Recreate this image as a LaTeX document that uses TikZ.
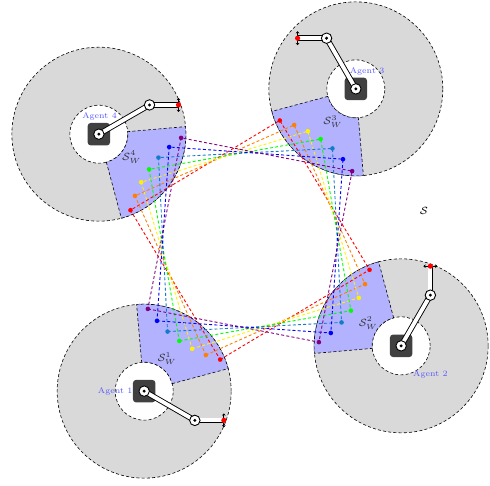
\documentclass[tikz,border=0pt]{standalone}
\usepackage{amsmath}
\usepackage{amsfonts}
\usetikzlibrary{arrows.meta}

\colorlet{sky}{cyan!60!blue}
\tikzset{
  zone/.style={fill=black!15},
  rim/.style={dash pattern=on 2pt off 1.5pt, thin},
  sector/.style={fill=blue!30, rim},
  route/.style={dash pattern=on 2pt off 1.5pt, semithick},
  base/.style={rectangle, rounded corners=2pt, fill=black!75, minimum size=15pt},
  joint/.style={circle, draw, fill=white, inner sep=0pt, minimum size=7pt, line width=0.6pt},
  link/.style={double=white, double distance=2.6pt, line width=0.6pt},
  grip/.style={line width=0.7pt, {Stealth[length=1.5pt,width=2.5pt]}-{Stealth[length=1.5pt,width=2.5pt]}},
  tag/.style={text=blue!65, font=\fontsize{5.5}{6}\selectfont},
}

\begin{document}
\begin{tikzpicture}[x=0.67pt, y=0.67pt]
\useasboundingbox (-250,-245) rectangle (240,240);
\foreach \k/\ua/\ub/\lx/\ly in {1/-30/0/-29/0, 2/60/90/29.3/-28.3, 3/120/180/11.3/17.6, 4/30/0/0.7/18.2} {
  \pgfmathsetmacro\ang{145+90*\k}
  \begin{scope}[shift={(\ang:184.5)}]
    \fill[zone, even odd rule] (0,0) circle (87) (0,0) circle (29);
    \draw[rim] (0,0) circle (87) (0,0) circle (29);
    \filldraw[sector] (\ang+140:29) -- (\ang+140:87) arc[start angle=\ang+140, end angle=\ang+220, radius=87]
      -- (\ang+220:29) arc[start angle=\ang+220, end angle=\ang+140, radius=29] -- cycle;
    \node[font=\scriptsize, text=black!80] (w\k) at (\ang+180:40) {$\mathcal{S}_W^{\k}$};
    \node[base] (a\k) at (0,0) {};
    \node[tag] (n\k) at (\lx,\ly) {Agent \k};
    \coordinate (j\k) at (\ua:58.5);
    \path (j\k) ++(\ub:29) coordinate (g\k);
    \draw[link] (a\k.center) -- (j\k);
    \draw[link] (j\k) -- (g\k);
    \draw[grip] ([shift={(\ub+90:7)}]g\k) -- ([shift={(\ub-90:7)}]g\k);
    \node[joint] (qa\k) at (a\k.center) {};
    \node[joint] (qj\k) at (j\k) {};
    \fill (qa\k) circle (1.1pt) (qj\k) circle (1.1pt);
    \fill[red] (g\k) circle (2.6);
  \end{scope}
}
\foreach \c [count=\j from 0] in {red,orange,yellow,green,sky,blue,violet} {
  \foreach \k in {1,...,4} {
    \pgfmathsetmacro\ang{145+90*\k+21-7*\j}
    \coordinate (p\k\j) at (\ang:123.2);
  }
  \draw[route, \c] (p1\j) -- (p2\j) -- (p3\j) -- (p4\j) -- cycle;
}
\foreach \c [count=\j from 0] in {red,orange,yellow,green,sky,blue,violet} {
  \foreach \k in {1,...,4}
    \fill[\c] (p\k\j) circle (2.3);
}
\node[font=\scriptsize] (s) at (173.9,29) {$\mathcal{S}$};
\end{tikzpicture}
\end{document}
